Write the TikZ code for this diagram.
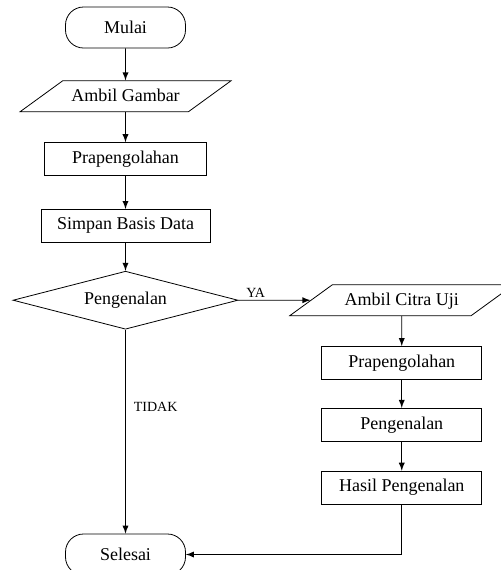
\documentclass[tikz,border=0pt]{standalone}
\usepackage{fontspec}
\setmainfont{Liberation Serif}
\usetikzlibrary{positioning,shapes.geometric}

\begin{document}
\begin{tikzpicture}[termnode/.style={rectangle, rounded corners=9pt, draw=black, thin, minimum width=60pt, minimum height=20.5pt, font=\fontsize{9}{11}\selectfont},
    ionode/.style={trapezium, trapezium left angle=36, trapezium right angle=144, trapezium stretches body=true, draw=black, thin, text height=7pt, text depth=2pt, inner xsep=1pt, inner ysep=3.25pt, font=\fontsize{9}{11}\selectfont},
    procnode/.style={rectangle, draw=black, thin, minimum width=80pt, minimum height=16.5pt, inner sep=1pt, font=\fontsize{9}{11}\selectfont},
    decnode/.style={diamond, aspect=3.9, draw=black, thin, minimum width=112.5pt, minimum height=29pt, inner sep=0pt, font=\fontsize{9}{11}\selectfont},
    lblnode/.style={font=\fontsize{7}{8}\selectfont, inner sep=1pt},
    >=latex]

        \useasboundingbox (0,0) rectangle (250.5pt,-285pt);

        \node[termnode] (mulai) at (62.75pt,-13.75pt) {Mulai};
        \node[ionode, minimum width=105.5pt] (ambil) [below=16pt of mulai] {Ambil Gambar};
        \node[procnode, minimum width=81pt] (prap) [below=15pt of ambil] {Prapengolahan};
        \node[procnode, minimum width=84.5pt] (simpan) [below=16.5pt of prap] {Simpan Basis Data};
        \node[decnode] (kenal) [below=14pt of simpan] {Pengenalan};
        \node[termnode] (selesai) [below=102pt of kenal] {Selesai};

        \node[ionode, minimum width=112pt] (citra) [right=36pt of kenal] {Ambil Citra Uji};
        \node[procnode] (prapuji) [below=15pt of citra] {Prapengolahan};
        \node[procnode] (kenaluji) [below=14pt of prapuji] {Pengenalan};
        \node[procnode] (hasil) [below=14.5pt of kenaluji] {Hasil Pengenalan};

        \draw[->] (mulai) -- (ambil);
        \draw[->] (ambil) -- (prap);
        \draw[->] (prap) -- (simpan);
        \draw[->] (simpan) -- (kenal);
        \draw[->] (kenal) -- node[lblnode, pos=0.24, above] {YA} (citra);
        \draw[->] (kenal) -- node[lblnode, pos=0.38, right=3pt] {TIDAK} (selesai);
        \draw[->] (citra) -- (prapuji);
        \draw[->] (prapuji) -- (kenaluji);
        \draw[->] (kenaluji) -- (hasil);
        \draw[->] (hasil) |- (selesai);

\end{tikzpicture}
\end{document}
